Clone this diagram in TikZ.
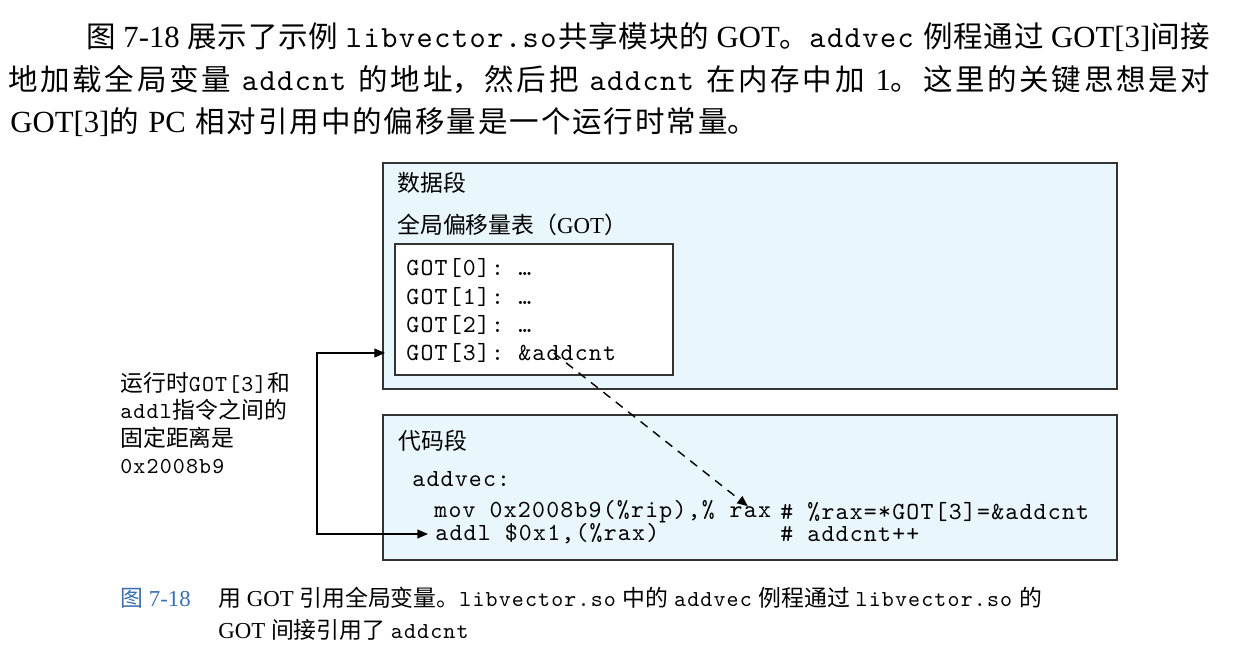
\documentclass[tikz,border=0pt]{standalone}
\usepackage{fontspec}
\setmainfont{Liberation Serif}
\setmonofont{lmmono10-regular.otf}[LetterSpace=5]
\newfontfamily\cjk{Noto Sans CJK SC}
\newfontfamily\cjkbody{Noto Sans CJK SC}[Scale=0.96]
\newcommand{\zh}[1]{{\cjk #1}}
\newcommand{\zb}[1]{{\cjkbody #1}}
\newcommand{\fullline}[2]{\parbox{#1}{\parfillskip=0pt \XeTeXlinebreakpenalty=10000
    \spaceskip=0.2em plus 0.3em minus 0.05em\noindent #2}}
\XeTeXlinebreaklocale "zh"
\XeTeXlinebreakskip=0pt plus 3pt minus 0.5pt
\usetikzlibrary{arrows.meta,positioning}
\definecolor{segblue}{RGB}{233,246,251}
\definecolor{capblue}{RGB}{60,112,176}
\tikzset{
  txt/.style={anchor=west, inner sep=0pt},
  body/.style={txt, font=\fontsize{17.5}{21}\selectfont},
  fig/.style={txt, font=\fontsize{13}{16}\selectfont},
  code/.style={txt, font=\fontsize{14}{16}\selectfont\ttfamily},
  note/.style={txt, align=left, font=\fontsize{13}{15.4}\selectfont},
  captxt/.style={txt, font=\fontsize{13}{15}\selectfont},
  segbox/.style={draw=black!80, line width=1pt, fill=segblue, anchor=north west, inner sep=0pt},
  tblbox/.style={segbox, fill=white},
  link/.style={line width=0.8pt, >={Triangle[length=6pt,width=5pt]}},
}
\begin{document}
\begin{tikzpicture}[x=0.02cm, y=-0.02cm]
    \fill[white] (0,0) rectangle (1236,658);
    \useasboundingbox (0,0) rectangle (1236,658);

    % paragraph above the figure
    \node[body] (line1) at (86,37) {\fullline{22.48cm}{\zb{图} 7-18 \zb{展示了示例} \texttt{libvector.so}\zb{共享模块的} GOT\zb{。}\texttt{addvec} \zb{例程通过} GOT[3]\zb{间接}}};
    \node[body] (line2) at (8,80) {\fullline{24.04cm}{\zb{地加载全局变量} \texttt{addcnt} \zb{的地址，然后把} \texttt{addcnt} \zb{在内存中加} 1\zb{。这里的关键思想是对}}};
    \node[body] (line3) at (10,122) {\fullline{14.94cm}{GOT[3]\zb{的} PC \zb{相对引用中的偏移量是一个运行时常量。}}};

    % data segment with the GOT
    \node[segbox, minimum width=14.68cm, minimum height=4.52cm] (data) at (382,162) {};
    \node[fig] (datalbl) at (397,183) {\zh{数据段}};
    \node[fig] (gotlbl) at (397,225) {\zh{全局偏移量表（}GOT\zh{）}};
    \node[tblbox, minimum width=5.56cm, minimum height=2.62cm] (gotbox) at (394,243) {};
    \foreach \i/\y in {0/268,1/297,2/325}
        \node[code] (got\i) at (406,\y) {GOT[\i]: …};
    \node[code] (got3) at (406,353) {GOT[3]: \&addcnt};

    % code segment
    \node[segbox, minimum width=14.68cm, minimum height=2.9cm] (code) at (382,414) {};
    \node[fig] (codelbl) at (398,441) {\zh{代码段}};
    \node[code] (addvec) at (412,479) {addvec:};
    \node[code] (mov) at (434,512) {mov 0x2008b9(\%rip),\%};
    \node[code, right=0.285cm of mov] (rax) {rax};
    \node[code] (movc) at (780,512) {\# \%rax=*GOT[3]=\&addcnt};
    \node[code] (addl) at (435,534) {addl \$0x1,(\%rax)};
    \node[code] (addlc) at (780,534) {\# addcnt++};

    % fixed distance note
    \node[note] (dist) at (120,423) {\zh{运行时}\texttt{GOT[3]}\zh{和}\\\texttt{addl}\zh{指令之间的}\\\zh{固定距离是}\\\texttt{0x2008b9}};
    \coordinate (turn) at (317,444);
    \draw[link, <->] ([xshift=-0.18cm]gotbox.west |- got3.west) -| (turn) |- ([xshift=-0.14cm]addl.west);
    \draw[link, dash pattern=on 5pt off 4pt, ->] ([xshift=0.85cm]got3.center) -- ([xshift=-0.05cm]rax.north);

    % caption
    \node[captxt, text=capblue] (capnum) at (120,598) {\zh{图} 7-18};
    \node[captxt] (cap1) at (218,598) {\zh{用} GOT \zh{引用全局变量。}\texttt{libvector.so} \zh{中的} \texttt{addvec} \zh{例程通过} \texttt{libvector.so} \zh{的}};
    \node[captxt] (cap2) at (218,630) {GOT \zh{间接引用了} \texttt{addcnt}};
\end{tikzpicture}
\end{document}
